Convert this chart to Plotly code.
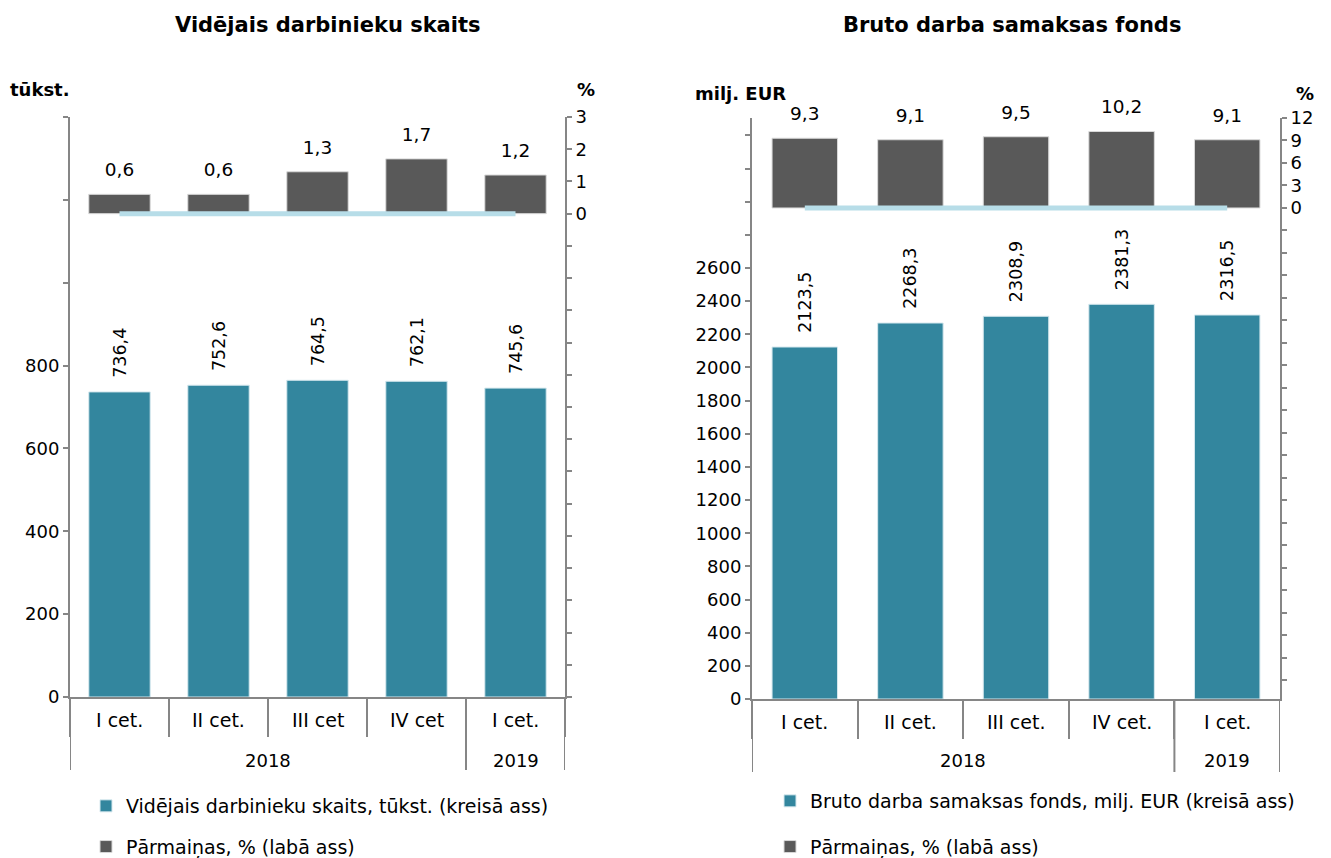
"""Darbinieku skaits un bruto darba samaksas fonds, 2018-2019."""

import plotly.graph_objects as go

# Data
years = ["2018", "2018", "2018", "2018", "2019"]
quarters_left = ["I cet.", "II cet.", "III cet", "IV cet", "I cet."]
quarters_right = ["I cet.", "II cet.", "III cet.", "IV cet.", "I cet."]

workers = [736.4, 752.6, 764.5, 762.1, 745.6]
workers_change = [0.6, 0.6, 1.3, 1.7, 1.2]
fund = [2123.5, 2268.3, 2308.9, 2381.3, 2316.5]
fund_change = [9.3, 9.1, 9.5, 10.2, 9.1]
baseline = [0, 0, 0, 0, 0]

# Axis ticks (only part of each axis carries labels)
left_ticks_1 = list(range(0, 1401, 200))
left_text_1 = ["0", "200", "400", "600", "800", "", "", ""]
right_ticks_1 = list(range(-15, 4, 1))
right_text_1 = [""] * 15 + ["0", "1", "2", "3"]
left_ticks_2 = list(range(0, 3401, 200))
left_text_2 = [str(v) for v in range(0, 2601, 200)] + ["", "", "", ""]
right_ticks_2 = list(range(-63, 13, 3))
right_text_2 = [""] * 21 + ["0", "3", "6", "9", "12"]

TEAL = "#33869e"
GREY = "#595959"
LIGHT = "#b7dde8"
AXIS = "#868686"
FONT = "DejaVu Sans"

W, H = 1331, 858
OFF = 8  # page body margin


def px(x):
    return (x - OFF) / W


def py(y):
    return 1 - (y - OFF) / H


cats_left = [f"{y} {q}" for y, q in zip(years, quarters_left)]
cats_right = [f"{y} {q}" for y, q in zip(years, quarters_right)]

fig = go.Figure()


def add_panel(cats, values, change, name, xa, ya, ya2, legend):
    fig.add_trace(go.Bar(
        x=cats, y=values, name=name,
        marker=dict(color=TEAL, line=dict(color="#d6e8ee", width=1)), width=0.62,
        texttemplate="\u00a0\u00a0%{y:.1f}", textposition="outside", textangle=-90,
        constraintext="none", cliponaxis=False, textfont=dict(size=17.5, color="black"),
        xaxis=xa, yaxis=ya, legend=legend, legendgroup=legend + "a", hoverinfo="skip",
    ))
    fig.add_trace(go.Bar(
        x=cats, y=change, name="Pārmaiņas, % (labā ass)",
        marker=dict(color=GREY, line=dict(color="#d9d9d9", width=1)), width=0.62,
        xaxis=xa, yaxis=ya2, legend=legend, legendgroup=legend + "b", hoverinfo="skip",
    ))
    fig.add_trace(go.Scatter(
        x=cats, y=baseline, mode="lines", line=dict(color=LIGHT, width=5),
        showlegend=False, hoverinfo="skip", xaxis=xa, yaxis=ya2,
    ))
    # labels for the % bars
    fig.add_trace(go.Scatter(
        x=cats, y=change, mode="markers+text", marker=dict(size=20, opacity=0),
        texttemplate="%{y:.1f}", textposition="top center", cliponaxis=False,
        textfont=dict(size=18.5, color="black"),
        showlegend=False, hoverinfo="skip", xaxis=xa, yaxis=ya2,
    ))


add_panel(cats_left, workers, workers_change,
          "Vidējais darbinieku skaits, tūkst. (kreisā ass)", "x", "y", "y2", "legend")
add_panel(cats_right, fund, fund_change,
          "Bruto darba samaksas fonds, milj. EUR (kreisā ass)", "x2", "y3", "y4", "legend2")

xcommon = dict(
    type="category", range=[-0.5, 4.5], showline=True, linecolor=AXIS, linewidth=2,
    ticks="outside", tickson="boundaries", ticklen=38, tickcolor=AXIS, tickwidth=2,
    showticklabels=False, showgrid=False, zeroline=False, automargin=False,
)
ycommon = dict(
    showline=True, linecolor=AXIS, linewidth=2, ticks="outside", ticklen=5,
    tickcolor=AXIS, tickwidth=2, showgrid=False, zeroline=False, automargin=False,
    tickmode="array", tickfont=dict(size=18, color="black"),
)

annotations = [
    dict(text="<b>Vidējais darbinieku skaits</b>", x=px(328), y=py(25), font=dict(size=21)),
    dict(text="<b>Bruto darba samaksas fonds</b>", x=px(1012), y=py(25), font=dict(size=21)),
    dict(text="<b>tūkst.</b>", x=px(40), y=py(90), font=dict(size=18)),
    dict(text="<b>%</b>", x=px(586), y=py(90), font=dict(size=18)),
    dict(text="<b>milj. EUR</b>", x=px(740), y=py(93), font=dict(size=18)),
    dict(text="<b>%</b>", x=px(1305), y=py(93), font=dict(size=18)),
]
for a in annotations:
    a.update(xref="paper", yref="paper", showarrow=False, xanchor="center", yanchor="middle")

shapes = []
# category and year labels under each panel
for quarters, xa, axis_y, q_y, yr_y, bottom in [
    (quarters_left, "x", 697, 720, 760, 770),
    (quarters_right, "x2", 699, 722, 760, 772),
]:
    for i, q in enumerate(quarters):
        annotations.append(dict(text=q, x=i, y=py(q_y), xref=xa, yref="paper",
                                showarrow=False, xanchor="center", yanchor="middle",
                                font=dict(size=19)))
    groups = {}
    for i, yr in enumerate(years):
        groups.setdefault(yr, []).append(i)
    bounds = set()
    for yr, idx in groups.items():
        annotations.append(dict(text=yr, x=sum(idx) / len(idx), y=py(yr_y), xref=xa,
                                yref="paper", showarrow=False, xanchor="center",
                                yanchor="middle", font=dict(size=18)))
        bounds.update([idx[0] - 0.5, idx[-1] + 0.5])
    for b in sorted(bounds):
        shapes.append(dict(type="line", xref=xa, yref="paper", x0=b, x1=b,
                           y0=py(axis_y), y1=py(bottom), line=dict(color=AXIS, width=2)))

fig.update_layout(
    width=W, height=H,
    margin=dict(l=0, r=0, t=0, b=0, autoexpand=False),
    paper_bgcolor="white", plot_bgcolor="white",
    font=dict(family=FONT, size=16, color="black"),
    separators=", ",
    barmode="overlay",
    xaxis=dict(domain=[px(70), px(565)], anchor="y", **xcommon),
    xaxis2=dict(domain=[px(752), px(1280)], anchor="y3", **xcommon),
    yaxis=dict(domain=[py(697), py(117)], anchor="x", range=[0, 1400],
               tickvals=left_ticks_1, ticktext=left_text_1, **ycommon),
    yaxis2=dict(overlaying="y", side="right", anchor="x", range=[-15, 3],
                tickvals=right_ticks_1, ticktext=right_text_1, **ycommon),
    yaxis3=dict(domain=[py(699), py(118)], anchor="x2", range=[0, 3505],
                tickvals=left_ticks_2, ticktext=left_text_2, **ycommon),
    yaxis4=dict(overlaying="y3", side="right", anchor="x2", range=[-65.5, 12],
                tickvals=right_ticks_2, ticktext=right_text_2, **ycommon),
    legend=dict(x=px(86), y=0, xref="container", yref="container",
                xanchor="left", yanchor="bottom",
                tracegroupgap=13, font=dict(size=19), bgcolor="rgba(0,0,0,0)"),
    legend2=dict(x=px(770), y=0, xref="container", yref="container",
                 xanchor="left", yanchor="bottom",
                 tracegroupgap=18, font=dict(size=19), bgcolor="rgba(0,0,0,0)"),
    annotations=annotations,
    shapes=shapes,
)

fig.write_html("out.html")
